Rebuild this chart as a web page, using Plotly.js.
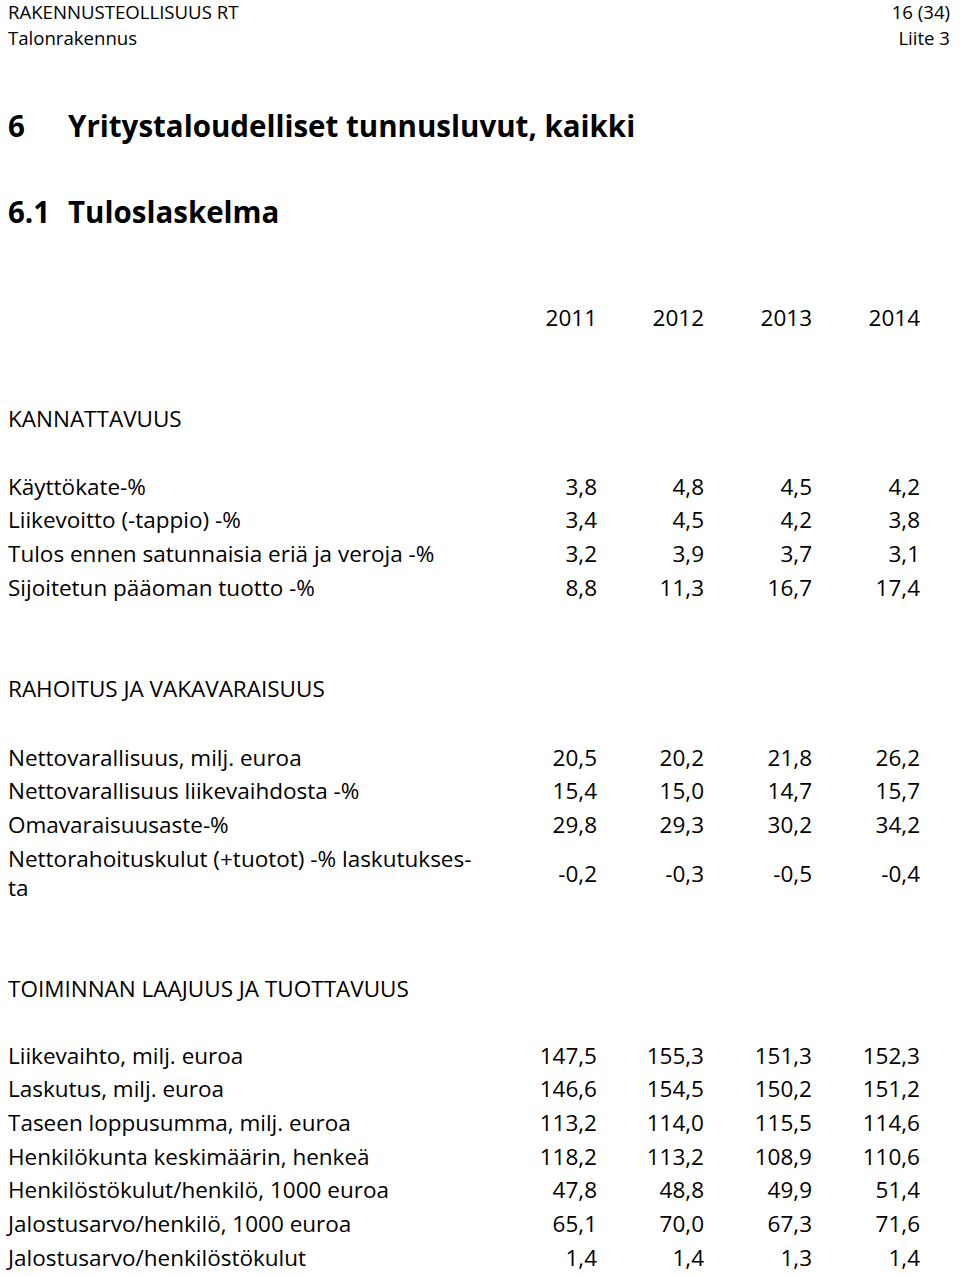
<!DOCTYPE html>
<html>
<head>
<meta charset="utf-8">
<script src="https://cdn.plot.ly/plotly-3.0.1.min.js"></script>
<style>
  html, body { margin: 0; padding: 0; background: #fff; }
</style>
</head>
<body>
<div id="taulu"></div>
<script>
// otsikot
var ylaVasen = ['RAKENNUSTEOLLISUUS RT', 'Talonrakennus'];
var ylaOikea = ['16 (34)', 'Liite 3'];
var lukuNumerot = ['6', '6.1'];
var lukuOtsikot = ['Yritystaloudelliset tunnusluvut, kaikki', 'Tuloslaskelma'];
var vuodet = ['2011', '2012', '2013', '2014'];

// KANNATTAVUUS
var kannattavuusOts = 'KANNATTAVUUS';
var kannattavuusRivit = ['Käyttökate-%', 'Liikevoitto (-tappio) -%', 'Tulos ennen satunnaisia eriä ja veroja -%', 'Sijoitetun pääoman tuotto -%'];
var kannattavuusArvot = [
    [3.8, 4.8, 4.5, 4.2],
    [3.4, 4.5, 4.2, 3.8],
    [3.2, 3.9, 3.7, 3.1],
    [8.8, 11.3, 16.7, 17.4]
];

// RAHOITUS JA VAKAVARAISUUS
var rahoitusOts = 'RAHOITUS JA VAKAVARAISUUS';
var rahoitusRivit = ['Nettovarallisuus, milj. euroa', 'Nettovarallisuus liikevaihdosta -%', 'Omavaraisuusaste-%', 'Nettorahoituskulut (+tuotot) -% laskutukses-<br>ta'];
var rahoitusArvot = [
    [20.5, 20.2, 21.8, 26.2],
    [15.4, 15.0, 14.7, 15.7],
    [29.8, 29.3, 30.2, 34.2],
    [-0.2, -0.3, -0.5, -0.4]
];

// TOIMINNAN LAAJUUS JA TUOTTAVUUS
var toimintaOts = 'TOIMINNAN LAAJUUS JA TUOTTAVUUS';
var toimintaRivit = ['Liikevaihto, milj. euroa', 'Laskutus, milj. euroa', 'Taseen loppusumma, milj. euroa', 'Henkilökunta keskimäärin, henkeä', 'Henkilöstökulut/henkilö, 1000 euroa', 'Jalostusarvo/henkilö, 1000 euroa', 'Jalostusarvo/henkilöstökulut'];
var toimintaArvot = [
    [147.5, 155.3, 151.3, 152.3],
    [146.6, 154.5, 150.2, 151.2],
    [113.2, 114.0, 115.5, 114.6],
    [118.2, 113.2, 108.9, 110.6],
    [47.8, 48.8, 49.9, 51.4],
    [65.1, 70.0, 67.3, 71.6],
    [1.4, 1.4, 1.3, 1.4]
];

// ASETTELU (pikseleinä, y alaspäin)
var W = 960, H = 1276;
var FONTTI = '"Open Sans", "Noto Sans", sans-serif';
var VARI = '#000000';
var vasenX = 8;
var sarakeX = [597, 704, 812, 920]; // lukujen oikea reuna
var rivivali = 33.7;
var KOKO = 22.5;

function luku(v) {
    return v.toFixed(1).replace('.', ',');
}

var jaljet = [];

function tekstit(xs, ys, txt, pos, koko, lihava) {
    jaljet.push({
        type: 'scatter', mode: 'text',
        x: xs, y: ys, text: txt,
        textposition: pos,
        textfont: {family: FONTTI, size: koko, color: VARI, weight: lihava ? 'bold' : 'normal'},
        hoverinfo: 'skip', showlegend: false, cliponaxis: false
    });
}

// sivun yläreuna
tekstit([vasenX, vasenX], [14, 40], ylaVasen, 'middle right', 18.6, false);
tekstit([950, 950], [14, 40], ylaOikea, 'middle left', 18.6, false);

// luvun otsikot
tekstit([vasenX, vasenX], [130, 216], lukuNumerot, 'middle right', 29.5, true);
tekstit([68, 68], [130, 216], lukuOtsikot, 'middle right', 29.5, true);

// vuodet
tekstit(sarakeX, [320, 320, 320, 320], vuodet, 'middle left', KOKO, false);

function osio(otsikko, otsY, rivit, arvot, ekaY, ylimaar) {
    tekstit([vasenX], [otsY], [otsikko], 'middle right', KOKO, false);
    var ys = [];
    for (var r = 0; r < rivit.length; r++) {
        var y = ekaY + r * rivivali;
        if (ylimaar && r == rivit.length - 1) { y += ylimaar; }
        ys.push(y);
    }
    tekstit(ys.map(function () { return vasenX; }), ys, rivit, 'middle right', KOKO, false);
    for (var s = 0; s < vuodet.length; s++) {
        var xs = [], txt = [];
        for (var r = 0; r < rivit.length; r++) {
            xs.push(sarakeX[s]);
            txt.push(luku(arvot[r][s]));
        }
        tekstit(xs, ys, txt, 'middle left', KOKO, false);
    }
}

osio(kannattavuusOts, 421, kannattavuusRivit, kannattavuusArvot, 489, 0);
osio(rahoitusOts, 691, rahoitusRivit, rahoitusArvot, 760, 15);
osio(toimintaOts, 991, toimintaRivit, toimintaArvot, 1058, 0);

var layout = {
    width: W, height: H,
    margin: {l: 0, r: 0, t: 0, b: 0},
    paper_bgcolor: '#ffffff', plot_bgcolor: '#ffffff',
    xaxis: {range: [0, W], visible: false, fixedrange: true},
    yaxis: {range: [H, 0], visible: false, fixedrange: true},
    showlegend: false
};

Plotly.newPlot('taulu', jaljet, layout, {staticPlot: true, displayModeBar: false});
</script>
</body>
</html>
